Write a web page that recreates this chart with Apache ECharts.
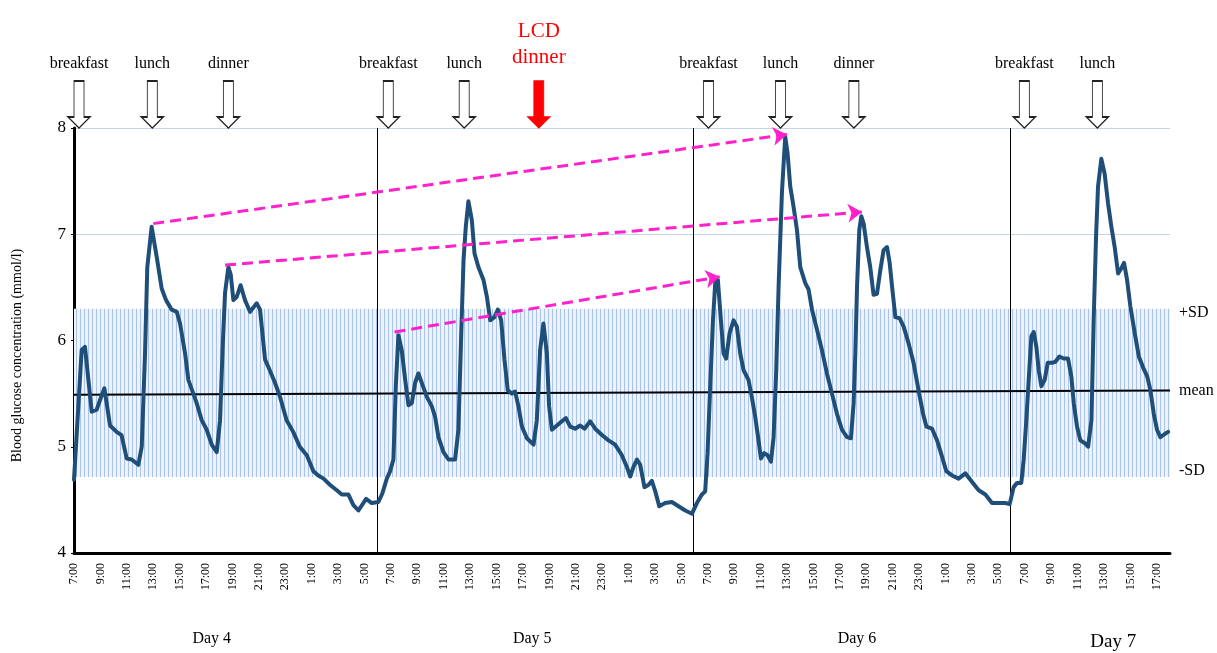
<!DOCTYPE html>
<html>
<head>
<meta charset="utf-8">
<script src="https://cdn.jsdelivr.net/npm/echarts@6/dist/echarts.min.js"></script>
<style>
html,body{margin:0;padding:0;background:#fff;}
#chart{width:1217px;height:653px;}
</style>
</head>
<body>
<div id="chart"></div>
<script>
// hours since 7:00 on Day 4
const timeHours = [0,0.58,0.83,1.34,1.72,1.97,2.3,2.73,3.23,3.6,3.99,4.37,4.87,5.13,5.38,5.55,5.88,6.26,6.64,6.97,7.4,7.78,8.03,8.41,8.66,9.04,9.29,9.67,10.05,10.43,10.81,11.06,11.26,11.44,11.69,11.87,12.07,12.32,12.62,12.95,13.33,13.84,14.09,14.47,14.72,15.23,15.6,16.1,16.6,17.1,17.63,18.13,18.5,18.9,19.4,19.9,20.28,20.78,21.16,21.54,22.12,22.55,23.05,23.35,23.69,23.94,24.19,24.37,24.57,24.82,25.08,25.33,25.58,25.83,26.08,26.34,26.72,27.1,27.35,27.6,27.98,28.36,28.86,29.11,29.32,29.5,29.67,29.87,30.13,30.33,30.63,31.01,31.27,31.52,31.84,32.1,32.35,32.6,32.85,33.16,33.4,33.66,33.92,34.3,34.8,35.05,35.3,35.55,35.81,35.98,36.19,36.57,36.95,37.25,37.58,37.95,38.33,38.66,39.09,39.47,39.98,40.48,40.98,41.49,41.87,42.12,42.37,42.63,42.88,43.2,43.5,43.76,44.02,44.32,44.77,45.28,45.78,46.29,46.8,47.17,47.55,47.8,47.98,48.18,48.39,48.56,48.76,48.99,49.19,49.39,49.65,49.95,50.2,50.45,50.71,51.08,51.33,51.59,51.84,52.02,52.27,52.52,52.78,52.98,53.18,53.36,53.61,53.86,54.04,54.24,54.49,54.75,55.0,55.38,55.63,55.89,56.27,56.64,57.02,57.4,57.78,58.16,58.54,58.84,59.04,59.17,59.3,59.47,59.62,59.8,60.05,60.3,60.55,60.81,61.06,61.31,61.57,61.77,61.95,62.2,62.52,62.83,63.21,63.58,63.96,64.3,64.55,64.98,65.36,65.73,66.06,66.49,66.99,67.5,68.0,68.51,69.02,69.52,70.02,70.53,70.86,71.16,71.42,71.74,71.92,72.12,72.3,72.5,72.68,72.88,73.06,73.26,73.51,73.74,74.07,74.32,74.62,74.95,75.28,75.53,75.71,75.96,76.21,76.59,76.8,77.05,77.22,77.4,77.55,77.8,78.05,78.31,78.56,78.81,79.07,79.32,79.52,79.75,80.0,80.33,80.64,80.95,81.28,81.52,81.77,82.02,82.27,82.6,82.86];
const glucose = [4.69,5.91,5.94,5.33,5.35,5.44,5.55,5.2,5.14,5.11,4.89,4.88,4.83,5.0,5.88,6.69,7.07,6.79,6.49,6.38,6.29,6.27,6.16,5.88,5.63,5.5,5.41,5.25,5.16,5.02,4.95,5.25,5.94,6.45,6.69,6.62,6.38,6.41,6.52,6.38,6.27,6.35,6.29,5.82,5.75,5.6,5.47,5.25,5.14,5.0,4.92,4.77,4.73,4.7,4.64,4.59,4.55,4.55,4.45,4.4,4.51,4.47,4.48,4.56,4.7,4.77,4.88,5.57,6.05,5.91,5.63,5.39,5.41,5.6,5.69,5.6,5.47,5.38,5.28,5.09,4.95,4.88,4.88,5.16,6.04,6.76,7.07,7.31,7.13,6.82,6.69,6.57,6.41,6.19,6.22,6.29,6.19,5.82,5.53,5.5,5.52,5.38,5.19,5.08,5.02,5.25,5.91,6.16,5.88,5.38,5.16,5.2,5.24,5.27,5.19,5.17,5.2,5.17,5.24,5.17,5.11,5.06,5.02,4.92,4.81,4.72,4.81,4.88,4.83,4.62,4.64,4.68,4.58,4.44,4.47,4.48,4.44,4.4,4.37,4.47,4.55,4.58,4.94,5.57,6.19,6.54,6.57,6.19,5.88,5.83,6.07,6.19,6.13,5.88,5.72,5.63,5.47,5.28,5.06,4.89,4.94,4.92,4.86,5.09,5.72,6.51,7.39,7.92,7.76,7.45,7.26,7.04,6.69,6.54,6.48,6.29,6.1,5.91,5.69,5.5,5.31,5.16,5.09,5.08,5.41,5.88,6.51,7.04,7.17,7.1,6.88,6.69,6.43,6.44,6.66,6.85,6.88,6.73,6.51,6.22,6.21,6.13,5.97,5.79,5.53,5.31,5.19,5.17,5.06,4.91,4.77,4.73,4.7,4.75,4.67,4.59,4.55,4.47,4.47,4.47,4.46,4.62,4.66,4.66,4.88,5.25,5.63,6.04,6.08,5.94,5.72,5.57,5.63,5.79,5.79,5.8,5.85,5.83,5.83,5.66,5.41,5.19,5.06,5.03,5.0,5.25,6.19,6.98,7.45,7.71,7.57,7.29,7.07,6.88,6.63,6.68,6.73,6.57,6.32,6.07,5.85,5.75,5.66,5.53,5.31,5.16,5.09,5.12,5.14];

const mealHours = [0.38,5.93,11.69,23.8,29.55,35.2,48.05,53.5,59.06,71.97,77.5];
const mealNames = ['breakfast','lunch','dinner','breakfast','lunch','LCD\ndinner','breakfast','lunch','dinner','breakfast','lunch'];

const dayDividers = [22.95,46.9,70.9];
const dayLabelHours = [10.43,34.7,59.3,78.7];
const dayLabels = ['Day 4','Day 5','Day 6','Day 7'];

const sdUpper = 6.30, sdLower = 4.715;
const meanStart = 5.49, meanEnd = 5.53;

// pink trend arrows: [startHour, startValue, endHour, endValue]
const trendArrows = [
  [6.0, 7.10, 54.0, 7.94],
  [11.44, 6.71, 59.67, 7.21],
  [24.27, 6.08, 48.9, 6.60]
];

const xMax = 83;
const serif = '"Liberation Serif","Times New Roman",serif';

const pat = document.createElement('canvas');
pat.width = 4; pat.height = 4;
const pc = pat.getContext('2d');
pc.fillStyle = '#eef3fb'; pc.fillRect(0,0,4,4);
pc.fillStyle = '#a9c3e8'; pc.fillRect(0,0,1,4);

const chart = echarts.init(document.getElementById('chart'), null, {renderer:'canvas'});

const arrowPath = 'path://M6,0L16,0L16,36L22,36L11,47L0,36L6,36Z';

const option = {
  animation: false,
  grid: {left: 74, right: 47, top: 128, bottom: 100},
  xAxis: [{
    type: 'value', min: 0, max: xMax, interval: 2,
    axisLine: {show: true, onZero: false, lineStyle: {color: '#000', width: 3}},
    axisTick: {show: false},
    splitLine: {show: false},
    axisLabel: {
      rotate: 90, margin: 10, color: '#000', fontSize: 12, fontFamily: serif,
      showMaxLabel: false,
      formatter: v => ((7 + v) % 24) + ':00'
    }
  }, {
    type: 'value', min: 0, max: xMax, position: 'bottom',
    axisLine: {show: false}, axisTick: {show: false}, splitLine: {show: false},
    axisLabel: {
      customValues: dayLabelHours, margin: 78, color: '#000', fontSize: 16, fontFamily: serif,
      formatter: v => {
        const i = dayLabelHours.indexOf(v);
        const t = i >= 0 ? dayLabels[i] : '';
        return i === 3 ? '{b|' + t + '}' : t;
      },
      rich: {b: {fontSize: 19, fontFamily: serif, color: '#000', padding: [2,0,0,0]}}
    }
  }],
  yAxis: {
    type: 'value', min: 4, max: 8, interval: 1,
    name: 'Blood glucose concentration (mmol/l)',
    nameLocation: 'middle', nameGap: 50, nameRotate: 90,
    nameTextStyle: {color: '#000', fontSize: 14, fontFamily: serif, padding: [0, 30, 0, 0]},
    axisLine: {show: true, lineStyle: {color: '#000', width: 3}},
    axisTick: {show: true, length: 3, lineStyle: {color: '#000', width: 1}},
    axisLabel: {color: '#000', fontSize: 17, fontFamily: serif, margin: 8},
    splitLine: {show: true, lineStyle: {color: '#c3d5ee', width: 1}}
  },
  series: [
    {
      type: 'line', data: [], z: 1,
      markArea: {
        silent: true, z: 1,
        itemStyle: {color: {image: pat, repeat: 'repeat'}},
        data: [[{coord: [0, sdUpper]}, {coord: [xMax, sdLower]}]]
      },
      markLine: {
        silent: true, z: 2, symbol: 'none',
        label: {show: false},
        data: dayDividers.map(h => ({xAxis: h, lineStyle: {color: '#000', width: 1, type: 'solid'}}))
          .concat([[{coord: [0, meanStart], lineStyle: {color: '#000', width: 2, type: 'solid'}}, {coord: [xMax, meanEnd]}]])
      },
      markPoint: {
        silent: true, z: 6, symbol: 'circle', symbolSize: 0,
        label: {show: true, position: 'right', distance: 9, color: '#000', fontSize: 16, fontFamily: serif, formatter: '{b}'},
        data: [
          {name: '+SD', coord: [xMax, 6.26]},
          {name: 'mean', coord: [xMax, meanEnd]},
          {name: '-SD', coord: [xMax, 4.77]}
        ]
      }
    },
    {
      name: 'glucose', type: 'line', z: 3,
      data: timeHours.map((h, i) => [h, glucose[i]]),
      showSymbol: false, symbol: 'none',
      lineStyle: {color: '#1f4e79', width: 4, join: 'round', cap: 'round'},
      clip: true
    },
    {
      type: 'line', data: [], z: 5,
      markLine: {
        silent: true, z: 5,
        symbol: ['none', 'arrow'], symbolSize: 14,
        label: {show: false},
        lineStyle: {color: '#ff22cc', width: 3, type: [11, 6]},
        itemStyle: {color: '#ff22cc'},
        data: trendArrows.map(a => [{coord: [a[0], a[1]]}, {coord: [a[2], a[3]]}])
      },
      markPoint: {
        silent: true, z: 6,
        symbol: arrowPath, symbolSize: [22, 47], symbolOffset: [0, '-50%'],
        data: mealHours.map((h, i) => {
          const lcd = mealNames[i].indexOf('LCD') >= 0;
          return {
            name: mealNames[i], coord: [h, 8],
            itemStyle: lcd ? {color: '#ff0000', borderColor: '#ff0000', borderWidth: 1}
                           : {color: '#ffffff', borderColor: '#222', borderWidth: 1.2},
            label: lcd ? {show: true, position: 'top', distance: 10, color: '#ff0000', fontSize: 21, lineHeight: 26, fontFamily: serif, formatter: '{b}'}
                       : {show: true, position: 'top', distance: 8, color: '#000', fontSize: 16, fontFamily: serif, formatter: '{b}'}
          };
        })
      }
    }
  ]
};
chart.setOption(option);
</script>
</body>
</html>
